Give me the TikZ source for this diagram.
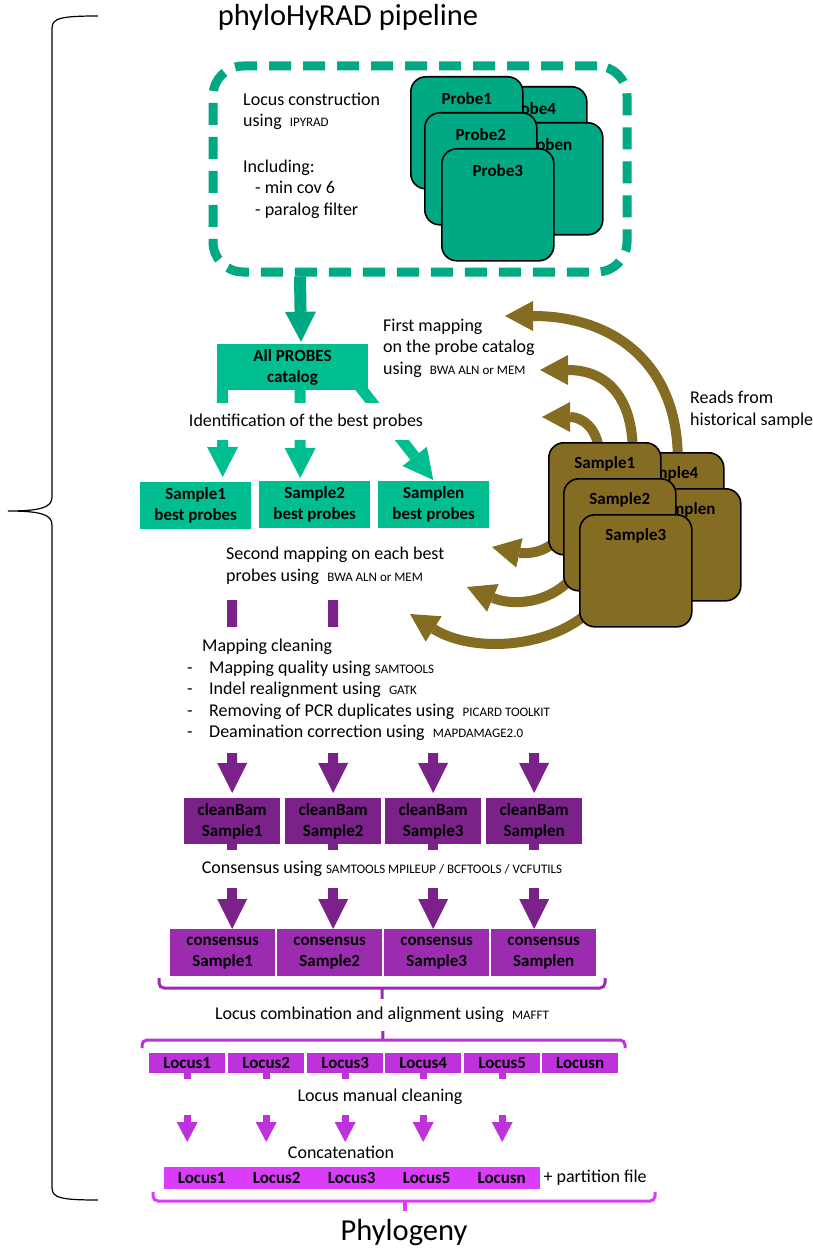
\documentclass[tikz,border=0pt]{standalone}
\usepackage{fontspec}
\setmainfont{Carlito}
\usepackage{tikz}
\usetikzlibrary{arrows.meta,positioning,calc}
\definecolor{TealD}{RGB}{0,168,132}
\definecolor{TealL}{RGB}{0,190,144}
\definecolor{BrownS}{RGB}{133,108,35}
\definecolor{PurpD}{RGB}{122,33,138}
\definecolor{PurpM}{RGB}{155,43,175}
\definecolor{PurpL}{RGB}{190,50,220}
\definecolor{MagL}{RGB}{218,60,250}
\newcommand{\tool}[1]{{\fontsize{13}{15}\selectfont #1}}
\pgfdeclarelayer{back}
\pgfdeclarelayer{cover}
\pgfdeclarelayer{curves}
\pgfsetlayers{back,cover,curves,main}
\tikzset{
  txt/.style={font=\fontsize{18}{21.5}\selectfont, inner sep=0pt},
  lbl/.style={font=\bfseries\fontsize{17}{21}\selectfont, align=center, inner sep=0pt},
  card/.style={draw=black, line width=1.6pt, rounded corners=15pt,
    minimum width=112pt, minimum height=112pt, anchor=north west},
  boxx/.style={lbl, anchor=north west, minimum height=47pt},
  lbox/.style={lbl, anchor=north west, minimum width=76pt, minimum height=20pt, fill=PurpL},
  cbox/.style={lbl, anchor=north west, minimum width=75pt, minimum height=21pt,
    fill=MagL, draw=MagL, line width=0.4pt},
  wipe/.style={txt, fill=white, inner xsep=4pt},
  tarrow/.style={TealL, line width=11pt, -{Triangle[width=31pt,length=30pt,line width=0pt]}},
  parrow/.style={PurpD, line width=10pt, -{Triangle[width=30pt,length=30pt,line width=0pt]}},
  larrow/.style={PurpL, line width=7pt, -{Triangle[width=21pt,length=20pt,line width=0pt]}},
  barrow/.style={BrownS, line width=10pt, -{Triangle[width=30pt,length=28pt,line width=0pt]}},
  brk/.style={line width=3pt, rounded corners=5pt},
}

\begin{document}
\begin{tikzpicture}[x=1pt,y=-1pt]
\useasboundingbox (0,0) rectangle (813,1249);
% big brace on the left
\draw[line width=1.2pt] (98,16) .. controls (62,16) and (52,18) .. (52,28) -- (52,497)
  .. controls (52,507) and (42,511) .. (8,511) .. controls (42,511) and (52,515) .. (52,525)
  -- (52,1188) .. controls (52,1198) and (62,1200) .. (98,1200);
\node[font=\fontsize{30.5}{34}\selectfont] (title) at (348,17) {phyloHyRAD pipeline};

% locus construction
\node[draw=TealD, line width=9pt, dash pattern=on 22pt off 12pt, rounded corners=30pt,
  minimum width=414pt, minimum height=206pt] (frame) at (420,169) {};
\node[txt, align=left, anchor=west] (ipyrad) at (243,111.5) {Locus construction\\using\ \ \tool{IPYRAD}};
\node[txt, align=left, anchor=west] (incl) at (243,189)
  {Including:\\\hspace*{12pt}- min cov 6\\\hspace*{12pt}- paralog filter};
\foreach \nm/\x/\y/\t in {p4/474/86/Probe4, pn/490/122/Proben, p1/410/76/Probe1,
                         p2/424/112/Probe2, p3/441/148/Probe3}
  \node[card, fill=TealD, label={[lbl, anchor=center, yshift=-23pt]north:\t}] (\nm) at (\x,\y) {};

% catalog and best probes
\node[lbl, fill=TealL, minimum width=151pt, minimum height=46pt] (cat) at (292.5,367) {All PROBES\\catalog};
\node[boxx, fill=TealL, minimum width=111pt] (b1) at (140,482) {Sample1\\best probes};
\node[boxx, fill=TealL, minimum width=111pt] (b2) at (259,481) {Sample2\\best probes};
\node[boxx, fill=TealL, minimum width=111pt] (b3) at (378,481) {Samplen\\best probes};
\begin{pgfonlayer}{back}
  \draw[tarrow, TealD, line width=12pt] ([xshift=-120pt]frame.south) -- ([xshift=8.5pt,yshift=2pt]cat.north);
  \draw[tarrow] ([xshift=5.5pt]cat.south west) -- ([xshift=27pt,yshift=5pt]b1.north);
  \draw[tarrow] ([xshift=7.5pt]cat.south) -- ([xshift=-14.5pt,yshift=3pt]b2.north);
  \draw[tarrow] ([xshift=-12pt,yshift=8pt]cat.south east) -- ([xshift=-0.5pt,yshift=1pt]b3.north);
\end{pgfonlayer}
\begin{pgfonlayer}{cover}
  \node[wipe, minimum height=37pt, minimum width=250pt] (ident) at (306,421.5) {Identification of the best probes};
\end{pgfonlayer}
\node[txt, align=left, anchor=west] (map1) at (383,348)
  {First mapping\\on the probe catalog\\using\ \ \tool{BWA ALN or MEM}};
\node[txt, align=left, anchor=west] (reads) at (690,409.5) {Reads from\\historical sample};

% historical sample reads
\foreach \nm/\x/\y/\t in {s4/611/452/Sample4, sn/628/488/Samplen, s1/548/442/Sample1,
                         s2/563/478/Sample2, s3/579/514/Sample3}
  \node[card, fill=BrownS, label={[lbl, anchor=center, yshift=-22pt]north:\t}] (\nm) at (\x,\y) {};
\coordinate (ta) at (505,316);
\coordinate (tb) at (540,370);
\coordinate (tc) at (542,417);
\coordinate (td) at (492,547);
\coordinate (te) at (467,587);
\coordinate (tf) at (410,614);
\begin{pgfonlayer}{curves}
  \draw[barrow] ([xshift=10pt,yshift=-10pt]s4.north) .. controls (679,365) and (615,316) .. (ta);
  \draw[barrow] ([xshift=28pt,yshift=-8pt]s1.north) .. controls (632,395) and (605,370) .. (tb);
  \draw[barrow] ([xshift=-6pt,yshift=-8pt]s1.north) .. controls (597,428) and (582,417) .. (tc);
  \draw[barrow] ([xshift=8pt,yshift=-42pt]s1.west) .. controls (540,556) and (520,553) .. (td);
  \draw[barrow] ([xshift=8pt,yshift=-44pt]s2.west) .. controls (548,604) and (512,606) .. (te);
  \draw[barrow] ([xshift=9pt,yshift=-42pt]s3.west) .. controls (545,650) and (470,652) .. (tf);
\end{pgfonlayer}
\node[txt, align=left, anchor=west] (map2) at (226,566)
  {Second mapping on each best\\probes using\ \ \tool{BWA ALN or MEM}};

% cleaning and consensus
\coordinate (m1) at (232,600);
\coordinate (m2) at (333,600);
\coordinate (m3) at (433,748);
\coordinate (m4) at (534,748);
\foreach \i/\x/\u/\t in {1/184/170/Sample1, 2/285/277/Sample2, 3/385/384/Sample3, 4/486/491/Samplen}{
  \node[boxx, fill=PurpD, minimum width=96pt, minimum height=46pt] (cb\i) at (\x,798) {cleanBam\\\t};
  \node[boxx, fill=PurpM, minimum width=105pt] (cs\i) at (\u,929) {consensus\\\t};
}
\begin{pgfonlayer}{back}
  \foreach \i in {1,...,4}{
    \draw[parrow] (m\i) -- ([yshift=5pt]cb\i.north);
    \draw[parrow] (cb\i.south) -- (cb\i.south |- cs\i.north);
  }
\end{pgfonlayer}
\begin{pgfonlayer}{cover}
  \node[wipe, align=left, anchor=west, minimum height=126pt, inner xsep=3pt] (clean) at (184,690)
    {\hspace*{15pt}Mapping cleaning\\
     \makebox[22pt][l]{-}Mapping quality using \tool{SAMTOOLS}\\
     \makebox[22pt][l]{-}Indel realignment using\ \ \tool{GATK}\\
     \makebox[22pt][l]{-}Removing of PCR duplicates using\ \ \tool{PICARD TOOLKIT}\\
     \makebox[22pt][l]{-}Deamination correction using\ \ \tool{MAPDAMAGE2.0}};
  \node[wipe, minimum height=38pt] (cons) at (382,869)
    {Consensus using \tool{SAMTOOLS MPILEUP / BCFTOOLS / VCFUTILS}};
\end{pgfonlayer}

% loci
\draw[brk, PurpM] (159,978) -- (159,988) -- (605,988) -- (605,978);
\coordinate (k1) at (382,988);
\coordinate (k2) at (383,1040);
\begin{pgfonlayer}{back}
  \draw[PurpM, line width=3pt] (k1) -- (k2);
\end{pgfonlayer}
\begin{pgfonlayer}{cover}
  \node[wipe, minimum height=32pt] (combo) at (382,1015) {Locus combination and alignment using\ \ \tool{MAFFT}};
\end{pgfonlayer}
\draw[brk, PurpL] (142,1048) -- (142,1040) -- (625,1040) -- (625,1048);
\foreach \i/\x in {1/149, 2/228, 3/307, 4/385, 5/464, n/542}
  \node[lbox] (l\i) at (\x,1053) {Locus\i};
\coordinate (lc) at (0,1142);
\begin{pgfonlayer}{back}
  \foreach \i in {1,...,5}
    \draw[larrow] (l\i.south) -- (l\i.south |- lc);
\end{pgfonlayer}
\begin{pgfonlayer}{cover}
  \node[wipe, minimum height=36pt, minimum width=400pt] (manual) at (380,1097) {Locus manual cleaning};
\end{pgfonlayer}
\node[txt] (concat) at (341,1152) {Concatenation};
\foreach \t [count=\k from 0] in {Locus1,Locus2,Locus3,Locus5,Locusn}
  \node[cbox] (cc\k) at ({164+75*\k},1167) {\t};
\node[txt, right=4pt of cc4] (part) {+ partition file};
\draw[brk, MagL] (153,1192) -- (153,1201) -- (655,1201) -- (655,1192);
\draw[MagL, line width=4pt] (405,1201) -- (405,1211);
\node[font=\fontsize{30.5}{34}\selectfont] (phylo) at (404,1233) {Phylogeny};
\end{tikzpicture}
\end{document}
